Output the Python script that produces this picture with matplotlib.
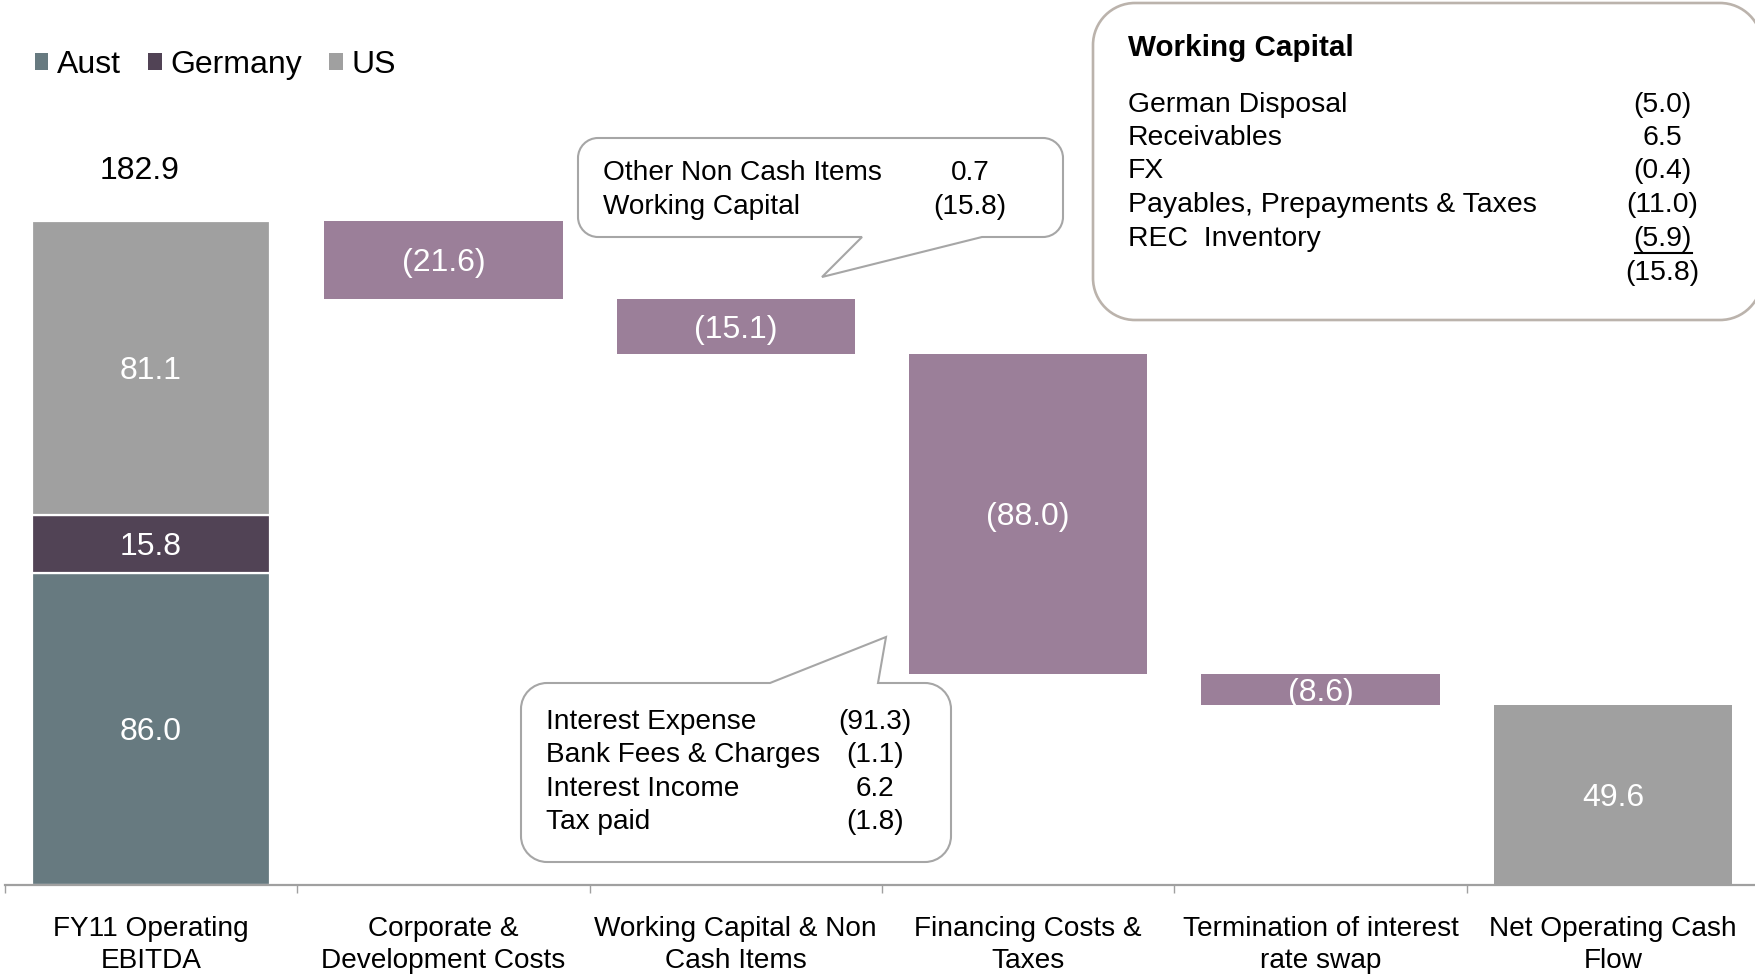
import matplotlib
matplotlib.use('Agg')
import matplotlib.pyplot as plt
from matplotlib.path import Path
from matplotlib.patches import PathPatch
from matplotlib.lines import Line2D
import matplotlib.transforms as mtrans

plt.rcParams['font.family'] = ['Liberation Sans', 'DejaVu Sans']

# ---------------- data ----------------
categories = ["FY11 Operating\nEBITDA", "Corporate &\nDevelopment Costs",
              "Working Capital & Non\nCash Items", "Financing Costs &\nTaxes",
              "Termination of interest\nrate swap", "Net Operating Cash\nFlow"]
segment_names = ["Aust", "Germany", "US"]
segment_values = [86.0, 15.8, 81.1]
ebitda_total = 182.9
change_values = [-21.6, -15.1, -88.0, -8.6]
net_cash_flow = 49.6

wc_items = ["German Disposal", "Receivables", "FX", "Payables, Prepayments & Taxes", "REC  Inventory"]
wc_values = ["(5.0)", "6.5", "(0.4)", "(11.0)", "(5.9)"]
wc_total = "(15.8)"
noncash_items = ["Other Non Cash Items", "Working Capital"]
noncash_values = ["0.7", "(15.8)"]
fin_items = ["Interest Expense", "Bank Fees & Charges", "Interest Income", "Tax paid"]
fin_values = ["(91.3)", "(1.1)", "6.2", "(1.8)"]

# ---------------- style ----------------
SEG_COLORS = ['#677A80', '#514355', '#A0A0A0']
NEG_COLOR = '#9B7F99'
NET_COLOR = '#A0A0A0'
AXIS_GRAY = '#A0A0A0'
LBL_FS = 23

W, H = 1755, 977
fig = plt.figure(figsize=(W / 100, H / 100), dpi=100)
PX = mtrans.Affine2D().scale(1 / W, -1 / H).translate(0, 1) + fig.transFigure

ax = fig.add_axes([4.8 / W, 92 / H, 1754.4 / W, 885 / H])
ax.set_xlim(-0.5, 5.5)
ax.set_ylim(0, 243.6)
bw = 0.815

def fmt(v):
    return f"({abs(v):.1f})" if v < 0 else f"{v:.1f}"

def bar_label(x, y, s):
    ax.annotate(s, xy=(x, y), xytext=(0, -2.5), textcoords='offset points',
                ha='center', va='center', color='white', fontsize=LBL_FS)

# stacked first bar
bottom = 0.0
for name, val, col in zip(segment_names, segment_values, SEG_COLORS):
    ax.bar(0, val, bw, bottom=bottom, color=col, edgecolor='white', linewidth=1.6, label=name)
    bar_label(0, bottom + val / 2, fmt(val))
    bottom += val
ax.annotate(f"{ebitda_total:.1f}", xy=(0, ebitda_total), xytext=(-8.5, 35.5),
            textcoords='offset points', ha='center', va='center', fontsize=LBL_FS, color='black')

# floating change bars
running = ebitda_total
for i, ch in enumerate(change_values, start=1):
    low = running + ch
    ax.bar(i, -ch, bw, bottom=low, color=NEG_COLOR, linewidth=0)
    bar_label(i, low - ch / 2, fmt(ch))
    running = low

# net bar
ax.bar(5, net_cash_flow, bw, color=NET_COLOR, linewidth=0)
bar_label(5, net_cash_flow / 2, fmt(net_cash_flow))

# axes styling
for s in ['top', 'right', 'left']:
    ax.spines[s].set_visible(False)
ax.spines['bottom'].set_color(AXIS_GRAY)
ax.spines['bottom'].set_linewidth(1.6)
ax.set_yticks([])
ax.set_xticks(range(len(categories)))
ax.set_xticklabels(categories, fontsize=20.2, linespacing=1.3)
ax.tick_params(axis='x', which='major', length=0, pad=22.5)
ax.set_xticks([i - 0.5 for i in range(len(categories) + 1)], minor=True)
ax.tick_params(axis='x', which='minor', length=6, width=1.0, color=AXIS_GRAY, direction='out')

# legend
handles, labels = ax.get_legend_handles_labels()
leg = fig.legend(handles, labels, loc='upper left', bbox_to_anchor=(35 / W, 1 - 50 / H),
                 ncol=3, frameon=False, fontsize=23, handlelength=0.42, handleheight=0.42,
                 handletextpad=0.28, columnspacing=0.84, borderpad=0, borderaxespad=0)
for h in leg.legend_handles:
    h.set_edgecolor('none')

# ---------------- callouts ----------------
K = 0.5523

def callout(x0, y0, x1, y1, r, top=None, bottom=None):
    v, c = [], []
    def M(p):
        v.append(p); c.append(Path.MOVETO)
    def L(p):
        v.append(p); c.append(Path.LINETO)
    def C(p0, corner, p1):
        c1 = (p0[0] + K * (corner[0] - p0[0]), p0[1] + K * (corner[1] - p0[1]))
        c2 = (p1[0] + K * (corner[0] - p1[0]), p1[1] + K * (corner[1] - p1[1]))
        v.extend([c1, c2, p1]); c.extend([Path.CURVE4] * 3)
    M((x0 + r, y0))
    for p in (top or []):
        L(p)
    L((x1 - r, y0)); C((x1 - r, y0), (x1, y0), (x1, y0 + r))
    L((x1, y1 - r)); C((x1, y1 - r), (x1, y1), (x1 - r, y1))
    for p in (bottom or []):
        L(p)
    L((x0 + r, y1)); C((x0 + r, y1), (x0, y1), (x0, y1 - r))
    L((x0, y0 + r)); C((x0, y0 + r), (x0, y0), (x0 + r, y0))
    v.append((x0 + r, y0)); c.append(Path.CLOSEPOLY)
    return Path(v, c)

# working capital box
fig.add_artist(PathPatch(callout(1093, 3, 1762, 320, 42), transform=PX,
                         facecolor='white', edgecolor='#BBB3AC', linewidth=1.9, zorder=5))
# upper callout
fig.add_artist(PathPatch(callout(578, 138, 1063, 237, 20,
                                 bottom=[(982, 237), (822, 277), (862, 237)]),
                         transform=PX, facecolor='white', edgecolor='#A6A6A6', linewidth=1.5, zorder=5))
# lower callout
fig.add_artist(PathPatch(callout(521, 683, 951, 862, 26,
                                 top=[(770, 683), (886, 637), (878, 683)]),
                         transform=PX, facecolor='white', edgecolor='#A6A6A6', linewidth=1.5, zorder=5))

TXT = dict(transform=PX, va='center', zorder=6)

# working capital text
fig.text(1128, 48, "Working Capital", fontweight='bold', fontsize=21.3, ha='left', **TXT)
wc_rows = [104.5, 138, 171.5, 205.5, 239]
for y, name, val in zip(wc_rows, wc_items, wc_values):
    fig.text(1128, y, name, ha='left', fontsize=20.4, **TXT)
    fig.text(1662, y, val, ha='center', fontsize=20.4, **TXT)
fig.text(1662, 272.5, wc_total, ha='center', fontsize=20.4, **TXT)
fig.add_artist(Line2D([1635, 1692], [253, 253], transform=PX, color='black', linewidth=1.5, zorder=6))

# upper callout text
for y, name, val in zip([172.5, 207.5], noncash_items, noncash_values):
    fig.text(603, y, name, ha='left', fontsize=20.2, **TXT)
    fig.text(970, y, val, ha='center', fontsize=20.2, **TXT)

# lower callout text
for y, name, val in zip([722, 755, 789, 822], fin_items, fin_values):
    fig.text(546, y, name, ha='left', fontsize=20.2, **TXT)
    fig.text(875, y, val, ha='center', fontsize=20.2, **TXT)

fig.savefig('out.png', dpi=100)
